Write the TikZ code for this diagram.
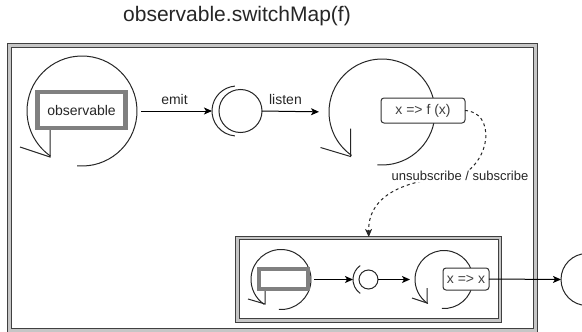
\documentclass[tikz,border=0pt]{standalone}
\usepackage{fontspec}
\setmainfont{Liberation Sans}
\usetikzlibrary{arrows.meta}
\begin{document}
\begin{tikzpicture}[x=1pt,y=-1pt,
  shapeline/.style={draw=black!85, line width=1pt},
  conn/.style={draw=black, line width=1pt, -{Stealth[length=8pt,width=7pt,inset=2pt]}},
  frame/.style={rectangle, draw=black!75, line width=1pt, double=gray!45, double distance=#1, inner sep=0pt, outer sep=0pt},
  ring/.style={circle, minimum size=#1, inner sep=0pt, outer sep=0pt},
  srcbox/.style={rectangle, draw=gray, line width=#1, inner sep=0pt, outer sep=0pt, fill=white},
  fnbox/.style={rectangle, rounded corners=3pt, draw=black!80, line width=1pt, fill=white, inner sep=0pt, outer sep=0pt, font=\fontsize{14}{16}\selectfont, text=black!75},
  lbl/.style={font=\fontsize{14}{16}\selectfont, text=black!85, inner sep=1pt}
]
\clip (0,0) rectangle (582,332);

% title
\node[font=\fontsize{21}{24}\selectfont, text=black!85] (title) at (237,16) {observable.switchMap(f)};

% frames
\node[frame=3pt, minimum width=526pt, minimum height=285.5pt] (outer) at (272.5,187.75) {};
\node[frame=2.4pt, minimum width=262.5pt, minimum height=82.5pt] (inner) at (368.75,279.25) {};

% ---- upper row ----
% source observable: rotating ring with open head
\node[ring=110pt] (ring1) at (82,111) {};
\draw[shapeline] (ring1.center) ++(95:55) arc[start angle=95, end angle=-235, radius=55];
\coordinate (tip1) at (50,157);
\draw[shapeline] (tip1) ++(0,-27) -- (tip1) -- ++(-30,-10);
\node[srcbox=4.5pt, minimum width=88pt, minimum height=36pt, font=\fontsize{14}{16}\selectfont, text=black!85] (obs) at (81.5,110) {observable};

% socket and ball
\node[ring=50pt] (sock1) at (237,111) {};
\draw[shapeline] (sock1.center) ++(95:25) arc[start angle=95, end angle=265, radius=25];
\node[ring=43pt, draw=black!85, line width=1pt] (lolly1) at (240.5,111) {};

% mapping ring
\node[ring=106pt] (ring2) at (382,112) {};
\draw[shapeline] (ring2.center) ++(95:53) arc[start angle=95, end angle=-235, radius=53];
\coordinate (tip2) at (350.5,156.5);
\draw[shapeline] (tip2) ++(0,-28) -- (tip2) -- ++(-30,-9);
\node[fnbox, minimum width=84pt, minimum height=25pt] (fx) at (423,110.5) {x => f (x)};

\draw[conn, shorten <=4pt] (ring1.east) -- (sock1.west) node[midway, above=5pt, lbl] (emit) {emit};
\draw[conn, shorten >=10pt] (lolly1.east) -- (ring2.west) node[pos=0.35, above=5pt, lbl] (listen) {listen};

% switching link
\coordinate (subpt) at (460,176);
\draw[line width=1pt, draw=black!85, dash pattern=on 3pt off 3pt, -{Stealth[length=8pt,width=7pt,inset=2pt]}, shorten >=1pt]
  (fx.east) .. controls (495,112) and (492,160) .. (subpt)
  .. controls (395,180) and (368,200) .. (inner.north);
\node[lbl, fill=white, font=\fontsize{13}{15}\selectfont] (sublbl) at (subpt) {unsubscribe / subscribe};

% ---- inner row ----
\node[ring=60pt] (iring1) at (281,279.5) {};
\draw[shapeline] (iring1.center) ++(94:30) arc[start angle=94, end angle=-236, radius=30];
\coordinate (tip3) at (265,304);
\draw[shapeline] (tip3) ++(0,-13) -- (tip3) -- ++(-17,-5);
\node[srcbox=4pt, minimum width=49pt, minimum height=20pt] (ibox) at (283.5,279) {};

\node[ring=34pt] (isock) at (370,279.5) {};
\draw[shapeline] (isock.center) ++(125:17) arc[start angle=125, end angle=235, radius=17];
\node[ring=19pt, draw=black!85, line width=1pt] (ilolly) at (368.5,279.5) {};

\node[ring=58pt] (iring2) at (444,279.5) {};
\draw[shapeline] (iring2.center) ++(94:29) arc[start angle=94, end angle=-236, radius=29];
\coordinate (tip4) at (427,303);
\draw[shapeline] (tip4) ++(0,-15) -- (tip4) -- ++(-15,-5);
\node[fnbox, minimum width=46pt, minimum height=22pt] (xx) at (466,279) {x => x};

% downstream observer
\node[ring=52pt, draw=black!85, line width=1pt] (ext) at (587,279.5) {};

\draw[conn, shorten <=3pt] (iring1.east) -- (isock.west);
\draw[conn, shorten >=5pt] (ilolly.east) -- (iring2.west);
\draw[conn] (xx.east) -- (ext.west);
\end{tikzpicture}
\end{document}
